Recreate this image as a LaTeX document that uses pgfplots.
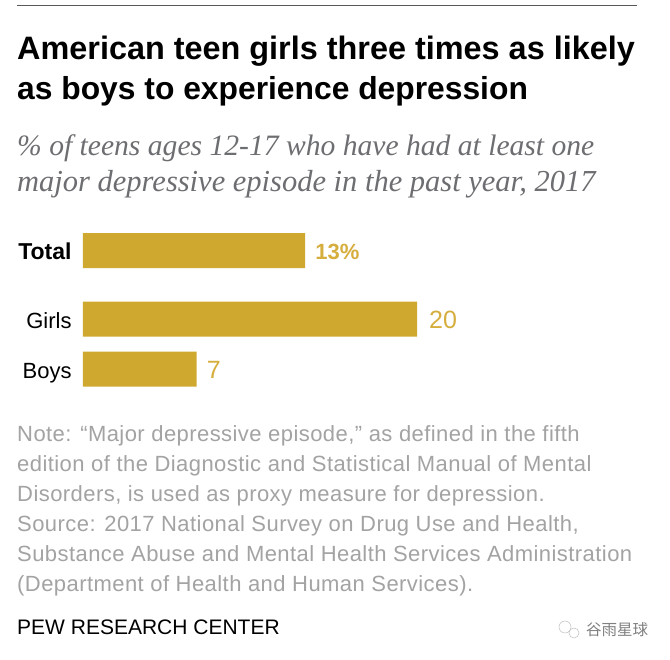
\documentclass[border=0pt]{standalone}
\usepackage{fontspec}
\usepackage{pgfplots}
\pgfplotsset{compat=1.18}
\setmainfont{Liberation Sans}
\newfontfamily\subfont{Liberation Serif}
\newfontfamily\notefont[LetterSpace=2]{Liberation Sans}
\newfontfamily\cjk{Noto Sans CJK SC}
\definecolor{bargold}{HTML}{CFA830}
\definecolor{valgold}{HTML}{D6AE3E}
\definecolor{subgray}{HTML}{6D6E71}
\definecolor{notegray}{HTML}{A3A3A3}
\begin{document}
\begin{tikzpicture}[x=1pt,y=1pt]
\path[use as bounding box,fill=white] (0,0) rectangle (670,660);
\draw[color=black!65,line width=0.7pt] (17,655) -- (637,655);
\node[anchor=base west,inner sep=0,font=\fontsize{32.4}{32}\selectfont\bfseries] at (17,600) {American teen girls three times as likely};
\node[anchor=base west,inner sep=0,font=\fontsize{31.8}{32}\selectfont\bfseries] at (17,560) {as boys to experience depression};
\node[anchor=base west,inner sep=0,text=subgray,font=\fontsize{29.6}{30}\subfont\itshape] at (17,504) {\% of teens ages 12-17 who have had at least one};
\node[anchor=base west,inner sep=0,text=subgray,font=\fontsize{30.5}{30}\subfont\itshape] at (17,468) {major depressive episode in the past year, 2017};
\begin{axis}[
  at={(83pt,434.3pt)},anchor=north west,
  scale only axis,width=367.4pt,height=168.5pt,
  xmin=0,xmax=22,ymin=-0.5,ymax=2.87,y dir=reverse,
  clip=false,xbar,bar width=35pt,
  axis line style={draw=none},tick style={draw=none},
  xtick=\empty,
  ytick={0,1.37,2.37},
  yticklabels={{\fontsize{23}{23}\selectfont\bfseries Total},Girls,Boys},
  yticklabel style={font=\fontsize{22}{22}\selectfont,text=black,inner sep=0pt,xshift=-7pt,yshift=-1pt,text height=16pt,text depth=0pt},
  nodes near coords,
  point meta=explicit symbolic,
  nodes near coords style={font=\fontsize{22}{22}\selectfont,text=valgold,inner sep=0pt,anchor=west,xshift=10pt,yshift=-1pt},
]
\addplot[fill=bargold,draw=none] coordinates {(13.3,0)[{\bfseries 13\%}] (20,1.37)[{\fontsize{25}{25}\selectfont\hspace*{2pt}20}] (6.8,2.37)[{\fontsize{25}{25}\selectfont 7}]};
\end{axis}
\foreach \y/\t in {218/{Note: “Major depressive episode,” as defined in the fifth},
188/{edition of the Diagnostic and Statistical Manual of Mental},
158/{Disorders, is used as proxy measure for depression.},
128/{Source: 2017 National Survey on Drug Use and Health,},
98/{Substance Abuse and Mental Health Services Administration},
68/{(Department of Health and Human Services).}}
 \node[anchor=base west,inner sep=0,text=notegray,font=\fontsize{22}{22}\notefont] at (17,\y) {\t};
\node[anchor=base west,inner sep=0,text=black,font=\fontsize{21}{22}\selectfont] at (17,25) {PEW RESEARCH CENTER};
\node[anchor=base west,inner sep=0,text=black!50,font=\fontsize{15.5}{16}\cjk] at (586,24) {谷雨星球};
\draw[black!25,line width=0.5pt] (565,33) circle (6);
\draw[black!25,line width=0.5pt] (574,27) circle (5);
\end{tikzpicture}
\end{document}
